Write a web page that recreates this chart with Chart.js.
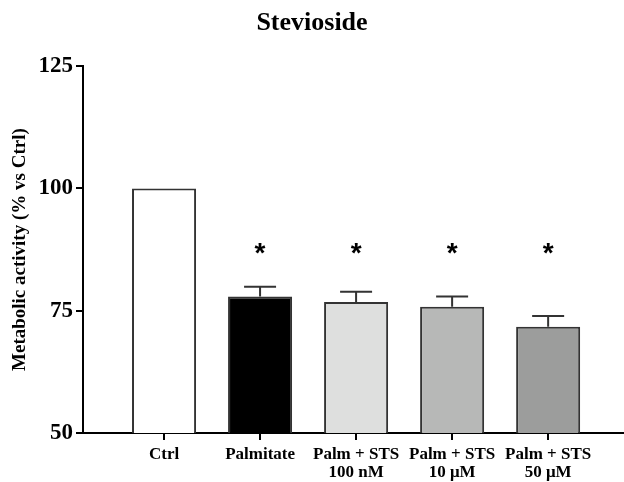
<!DOCTYPE html>
<html>
<head>
<meta charset="utf-8">
<script src="https://cdn.jsdelivr.net/npm/chart.js@4/dist/chart.umd.min.js"></script>
<style>
  body { margin: 0; background: #fff; }
  canvas { display: block; }
</style>
</head>
<body>
<canvas id="chart" width="624" height="482"></canvas>
<script>
const categories = [["Ctrl"], ["Palmitate"], ["Palm + STS", "100 nM"], ["Palm + STS", "10 μM"], ["Palm + STS", "50 μM"]];
const values = [100, 77.9, 76.8, 75.8, 71.7];
const errors = [0, 2, 2.1, 2.1, 2.2];
const starLevel = [null, 87.5, 87.5, 87.5, 87.5];
const barColors = ["#ffffff", "#000000", "#dedfde", "#b7b8b7", "#9c9d9c"];
const yTicks = [50, 75, 100, 125];

const serif = '"Liberation Serif", "Times New Roman", serif';

// error bars + significance stars
const extras = {
  id: 'extras',
  afterDatasetsDraw(chart) {
    const ctx = chart.ctx;
    const x = chart.scales.x, y = chart.scales.y;
    ctx.save();
    ctx.strokeStyle = '#333';
    ctx.lineWidth = 2;
    values.forEach((v, i) => {
      const px = x.getPixelForValue(i + 1);
      if (errors[i] > 0) {
        const top = y.getPixelForValue(v + errors[i]);
        ctx.beginPath();
        ctx.moveTo(px, y.getPixelForValue(v));
        ctx.lineTo(px, top);
        ctx.moveTo(px - 16, top);
        ctx.lineTo(px + 16, top);
        ctx.stroke();
      }
      if (starLevel[i] != null) {
        ctx.fillStyle = '#000';
        ctx.font = 'bold 28px "Liberation Sans", Arial, sans-serif';
        ctx.textAlign = 'center';
        ctx.textBaseline = 'middle';
        ctx.fillText('*', px, y.getPixelForValue(starLevel[i]) + 5);
      }
    });
    ctx.restore();
  }
};

new Chart(document.getElementById('chart'), {
  type: 'bar',
  data: {
    datasets: [{
      data: values.map((v, i) => ({ x: i + 1, y: v })),
      backgroundColor: barColors,
      borderColor: '#333',
      borderWidth: 2,
      categoryPercentage: 1,
      barPercentage: 0.667
    }]
  },
  options: {
    responsive: false,
    animation: false,
    devicePixelRatio: 1,
    layout: { padding: 0 },
    plugins: {
      legend: { display: false },
      tooltip: { enabled: false },
      title: {
        display: true,
        text: 'Stevioside',
        color: '#000',
        font: { family: serif, size: 26, weight: 'bold' },
        padding: { top: 8, bottom: 27 }
      }
    },
    scales: {
      x: {
        type: 'linear',
        offset: false,
        min: 0.156,
        max: 5.79,
        afterBuildTicks: s => { s.ticks = categories.map((_, i) => ({ value: i + 1 })); },
        afterFit: s => { s.height = 49; },
        border: { display: true, color: '#000', width: 2 },
        grid: { offset: false, drawOnChartArea: false, color: '#000', lineWidth: 2, tickLength: 7 },
        ticks: {
          color: '#000',
          padding: 6,
          maxRotation: 0,
          autoSkip: false,
          font: { family: serif, size: 17, weight: 'bold', lineHeight: 1.05 },
          callback: v => categories[v - 1]
        }
      },
      y: {
        min: 50,
        max: 125,
        afterBuildTicks: s => { s.ticks = yTicks.map(v => ({ value: v })); },
        afterFit: s => { s.width = 83; },
        border: { display: true, color: '#000', width: 2 },
        grid: { drawOnChartArea: false, color: '#000', lineWidth: 2, tickLength: 7 },
        ticks: {
          color: '#000',
          padding: 3,
          font: { family: serif, size: 23, weight: 'bold' }
        },
        title: {
          display: true,
          text: 'Metabolic activity (% vs Ctrl)',
          color: '#000',
          font: { family: serif, size: 19, weight: 'bold' },
          padding: { top: 9, bottom: 0 }
        }
      }
    }
  },
  plugins: [extras]
});
</script>
</body>
</html>
